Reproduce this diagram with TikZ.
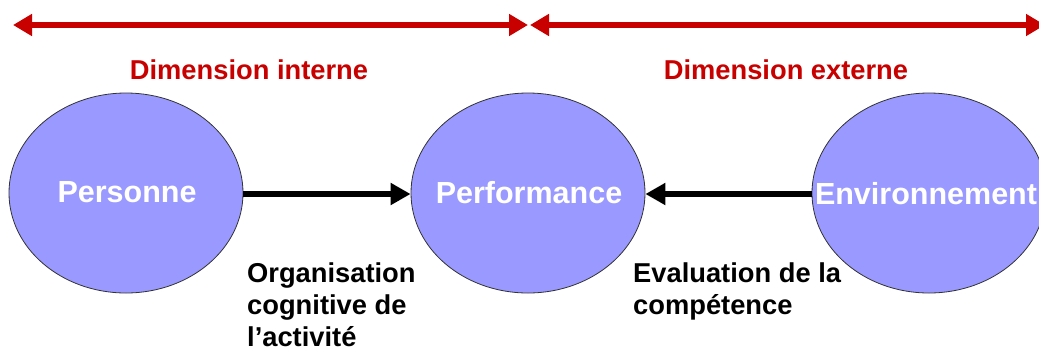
\documentclass[tikz,border=0pt]{standalone}
\usepackage{fontspec}
\setmainfont{Liberation Sans}
\usetikzlibrary{arrows.meta,shapes.geometric}
\definecolor{redD}{HTML}{C80000}
\definecolor{ellfill}{HTML}{9999FF}
\begin{document}
\begin{tikzpicture}[x=1pt,y=-1pt,
  ell/.style={ellipse, draw=black!80, line width=0.8pt, fill=ellfill, minimum width=234pt, minimum height=200pt, inner sep=0pt},
  elltext/.style={font=\bfseries\fontsize{30.5}{34}\selectfont, text=white, inner sep=0pt},
  dimlabel/.style={font=\bfseries\fontsize{27.3}{31}\selectfont, text=redD, inner sep=0pt, anchor=base},
  lbl/.style={font=\bfseries\fontsize{27.3}{32}\selectfont, align=left, anchor=north west, inner sep=0pt},
  redarrow/.style={draw=redD, line width=6pt, {Triangle[length=19pt,width=21pt]}-{Triangle[length=19pt,width=21pt]}},
  blkarrow/.style={draw=black, line width=6pt, -{Triangle[length=20pt,width=21pt]}}
]
\useasboundingbox (0,0) rectangle (1039,349);
\coordinate (r1a) at (13,25);
\coordinate (r1b) at (528,25);
\coordinate (r2a) at (530,25);
\coordinate (r2b) at (1045,25);
\draw[redarrow] (r1a) -- (r1b);
\draw[redarrow] (r2a) -- (r2b);
\node[dimlabel] (dint) at (249,79) {Dimension interne};
\node[dimlabel] (dext) at (786,79) {Dimension externe};
\node[ell] (pers) at (126,193) {};
\node[ell] (perf) at (528,193) {};
\node[ell] (env) at (929,193) {};
\node[elltext] (perst) at (127,192) {Personne};
\node[elltext] (perft) at (529,193) {Performance};
\node[elltext] (envt) at (926,194) {Environnement};
\draw[blkarrow] ([yshift=-1pt]pers.east) -- ([yshift=-1pt]perf.west);
\draw[blkarrow] ([yshift=-1pt]env.west) -- ([yshift=-1pt]perf.east);
\node[lbl] (org) at (247,263) {Organisation\\cognitive de\\l’activité};
\node[lbl] (eval) at (633,263) {Evaluation de la\\compétence};
\end{tikzpicture}
\end{document}
